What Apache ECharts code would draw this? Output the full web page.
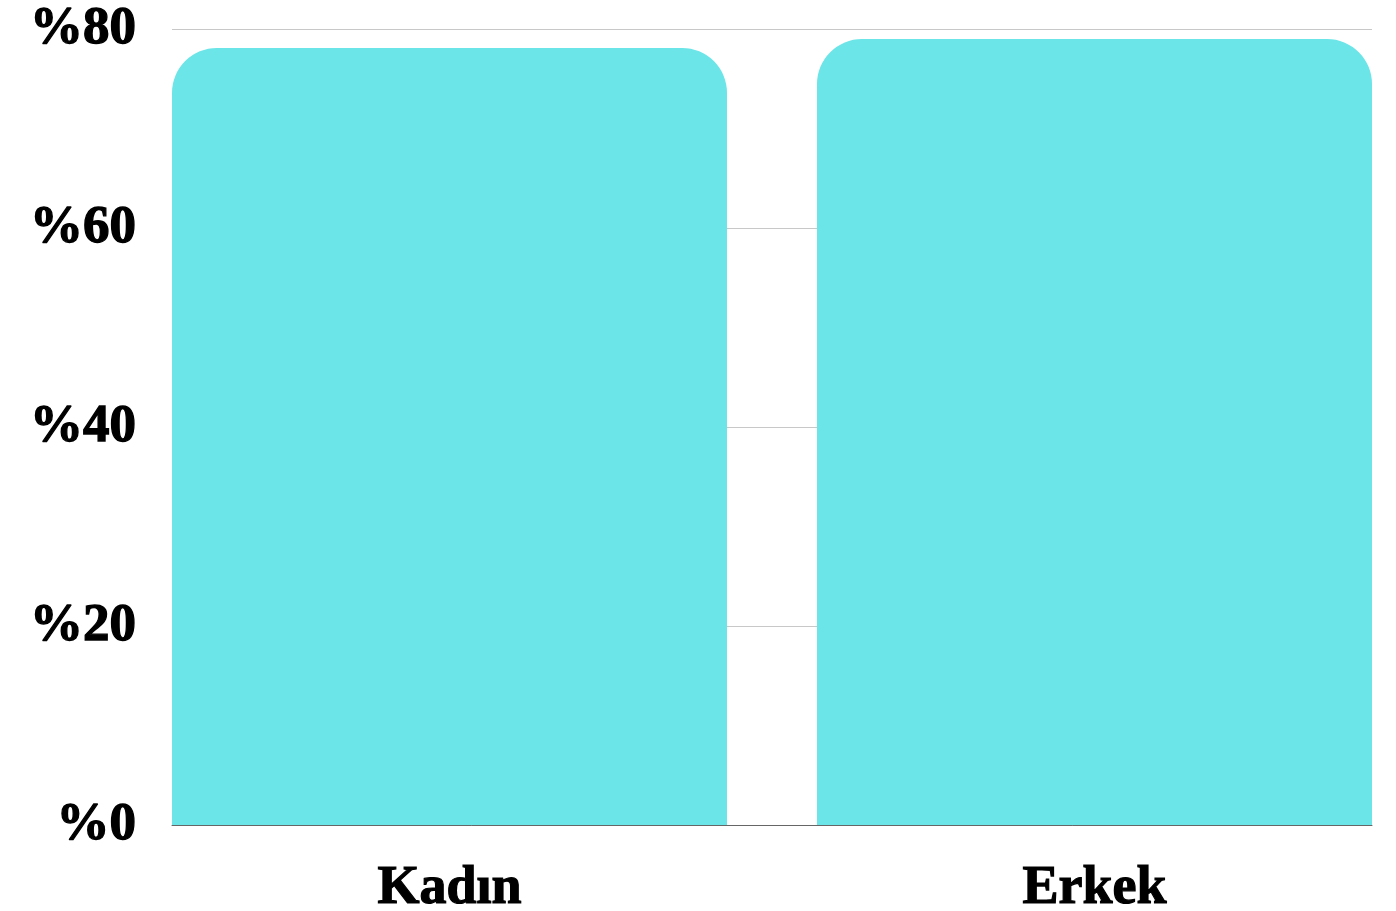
<!DOCTYPE html>
<html>
<head>
<meta charset="utf-8">
<style>
html,body{margin:0;padding:0;background:#fff;}
#chart{width:1396px;height:911px;}
</style>
<script src="https://cdn.jsdelivr.net/npm/echarts@6/dist/echarts.min.js"></script>
</head>
<body>
<div id="chart"></div>
<script>
const categories = ['Kadın', 'Erkek'];
const values = [78.1, 79.0];
const yTicks = { min: 0, max: 80, interval: 20 };

const fontFamily = '"Liberation Serif", "DejaVu Serif", serif';
const chart = echarts.init(document.getElementById('chart'), null, { renderer: 'canvas' });
chart.setOption({
  animation: false,
  backgroundColor: '#ffffff',
  grid: [
    { left: 172, right: 24, top: 29, bottom: 86, outerBoundsMode: 'none', containLabel: false },
    { left: 127, width: 1290, top: 29, bottom: 86, outerBoundsMode: 'none', containLabel: false }
  ],
  xAxis: [
    {
      gridIndex: 0, type: 'category', data: categories, z: 5,
      axisLine: { show: true, lineStyle: { color: '#666666', width: 1 } },
      axisTick: { show: false }, axisLabel: { show: false }, splitLine: { show: false }
    },
    {
      gridIndex: 1, type: 'category', data: categories,
      axisLine: { show: false }, axisTick: { show: false },
      axisLabel: { show: true, color: '#000', fontFamily: fontFamily, fontWeight: 'bold', fontSize: 54,
        textBorderColor: '#000', textBorderWidth: 1.2, margin: 37 }
    }
  ],
  yAxis: [
    {
      gridIndex: 0, type: 'value', min: yTicks.min, max: yTicks.max, interval: yTicks.interval,
      axisLine: { show: false }, axisTick: { show: false },
      splitLine: { show: true, lineStyle: { color: '#c8c8c8', width: 1 } },
      axisLabel: { formatter: '%{value}', color: '#000', fontFamily: fontFamily, fontWeight: 'bold', fontSize: 53,
        textBorderColor: '#000', textBorderWidth: 1.3, margin: 36, padding: [16, 0, 0, 0] }
    },
    {
      gridIndex: 1, type: 'value', min: yTicks.min, max: yTicks.max, interval: yTicks.interval, show: false,
      splitLine: { show: false }
    }
  ],
  series: [
    {
      type: 'bar', xAxisIndex: 1, yAxisIndex: 1, data: values, barWidth: 555,
      itemStyle: { color: '#6be5e8', borderRadius: [45, 45, 0, 0] }
    }
  ]
});
</script>
</body>
</html>
